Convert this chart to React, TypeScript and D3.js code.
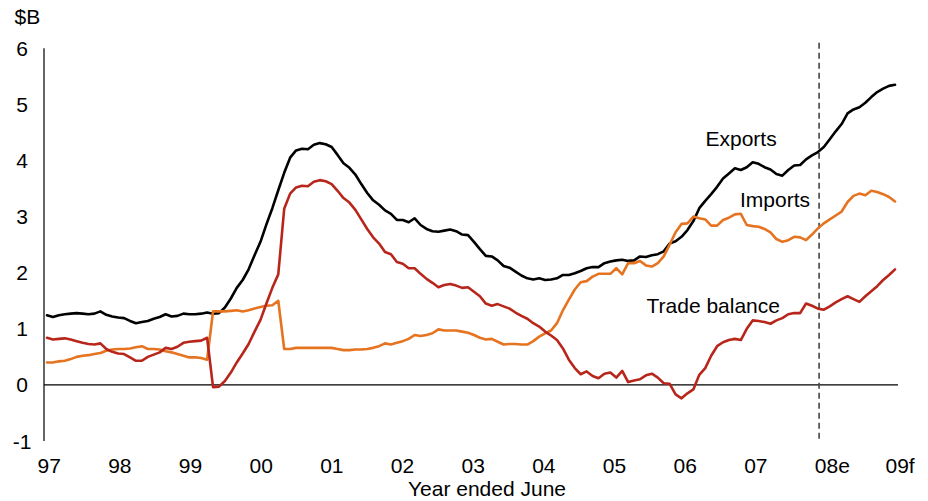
import React from "react";
import * as d3 from "d3";

const exportsData = [
  1.24, 1.21, 1.24, 1.26, 1.27, 1.28, 1.27, 1.26, 1.27, 1.31, 1.25, 1.22,
  1.20, 1.19, 1.14, 1.10, 1.12, 1.14, 1.18, 1.21, 1.26, 1.22, 1.23, 1.27,
  1.26, 1.26, 1.27, 1.29, 1.27, 1.28, 1.38, 1.54, 1.73, 1.87, 2.06, 2.31,
  2.55, 2.86, 3.15, 3.47, 3.78, 4.05, 4.18, 4.21, 4.20, 4.28, 4.31, 4.29,
  4.24, 4.10, 3.95, 3.87, 3.75, 3.58, 3.42, 3.29, 3.21, 3.11, 3.05, 2.94,
  2.94, 2.90, 2.97, 2.85, 2.78, 2.74, 2.73, 2.75, 2.77, 2.74, 2.68, 2.67,
  2.55, 2.42, 2.30, 2.29, 2.22, 2.12, 2.09, 2.02, 1.95, 1.90, 1.88, 1.90,
  1.87, 1.88, 1.90, 1.96, 1.96, 1.99, 2.03, 2.08, 2.10, 2.10, 2.17, 2.20,
  2.22, 2.23, 2.21, 2.22, 2.29, 2.28, 2.31, 2.33, 2.38, 2.52, 2.56, 2.64,
  2.76, 2.92, 3.15, 3.28, 3.40, 3.53, 3.68, 3.77, 3.86, 3.83, 3.88, 3.97,
  3.94, 3.88, 3.84, 3.76, 3.73, 3.83, 3.91, 3.92, 4.02, 4.09, 4.15, 4.24,
  4.38, 4.52, 4.65, 4.84, 4.91, 4.95, 5.03, 5.13, 5.22, 5.28, 5.33, 5.35,
];

const importsData = [
  0.40, 0.40, 0.42, 0.43, 0.46, 0.50, 0.52, 0.53, 0.55, 0.57, 0.61, 0.63,
  0.64, 0.64, 0.65, 0.67, 0.69, 0.64, 0.64, 0.63, 0.60, 0.58, 0.55, 0.52,
  0.49, 0.49, 0.48, 0.45, 1.31, 1.31, 1.31, 1.32, 1.33, 1.31, 1.33, 1.36,
  1.39, 1.41, 1.42, 1.50, 0.64, 0.64, 0.66, 0.66, 0.66, 0.66, 0.66, 0.66,
  0.66, 0.64, 0.62, 0.62, 0.63, 0.63, 0.64, 0.66, 0.69, 0.74, 0.72, 0.75,
  0.78, 0.82, 0.89, 0.87, 0.89, 0.92, 0.99, 0.97, 0.97, 0.97, 0.95, 0.93,
  0.89, 0.84, 0.81, 0.82, 0.77, 0.72, 0.73, 0.73, 0.72, 0.72, 0.78, 0.86,
  0.92, 0.97, 1.10, 1.33, 1.52, 1.70, 1.83, 1.85, 1.93, 1.98, 1.98, 1.98,
  2.08, 1.97, 2.17, 2.17, 2.21, 2.13, 2.11, 2.17, 2.29, 2.50, 2.72, 2.87,
  2.88, 3.00, 2.97, 2.95, 2.84, 2.84, 2.94, 2.98, 3.04, 3.05, 2.85, 2.83,
  2.82, 2.78, 2.72, 2.60, 2.55, 2.58, 2.64, 2.63, 2.58, 2.68, 2.79, 2.88,
  2.95, 3.02, 3.09, 3.26, 3.37, 3.41, 3.38, 3.46, 3.44, 3.40, 3.35, 3.27,
];

const balanceData = [
  0.84, 0.81, 0.82, 0.83, 0.81, 0.78, 0.75, 0.73, 0.72, 0.74, 0.64, 0.59,
  0.56, 0.55, 0.49, 0.43, 0.43, 0.50, 0.54, 0.58, 0.66, 0.64, 0.68, 0.75,
  0.77, 0.78, 0.79, 0.84, -0.04, -0.03, 0.07, 0.22, 0.40, 0.56, 0.73, 0.95,
  1.16, 1.45, 1.73, 1.97, 3.14, 3.41, 3.52, 3.55, 3.54, 3.62, 3.65, 3.63,
  3.58, 3.46, 3.33, 3.25, 3.12, 2.95, 2.78, 2.63, 2.52, 2.37, 2.33, 2.19,
  2.16, 2.08, 2.08, 1.98, 1.89, 1.82, 1.74, 1.78, 1.80, 1.77, 1.73, 1.74,
  1.66, 1.58, 1.45, 1.41, 1.44, 1.40, 1.36, 1.29, 1.23, 1.18, 1.10, 1.04,
  0.95, 0.88, 0.80, 0.65, 0.45, 0.30, 0.19, 0.24, 0.16, 0.12, 0.20, 0.22,
  0.13, 0.25, 0.05, 0.08, 0.10, 0.17, 0.20, 0.13, 0.03, 0.02, -0.17, -0.24,
  -0.15, -0.08, 0.18, 0.30, 0.52, 0.69, 0.76, 0.80, 0.82, 0.80, 1.00, 1.15,
  1.14, 1.12, 1.09, 1.15, 1.19, 1.26, 1.28, 1.28, 1.45, 1.41, 1.36, 1.34,
  1.40, 1.47, 1.53, 1.58, 1.53, 1.48, 1.58, 1.67, 1.76, 1.87, 1.96, 2.06,
];

const xTickLabels = ["97", "98", "99", "00", "01", "02", "03", "04", "05", "06", "07", "08e", "09f"];
const yTicks = [-1, 0, 1, 2, 3, 4, 5, 6];
const forecastIndex = 130.2;

const seriesLabels = [
  { name: "Exports", color: "#000000" },
  { name: "Imports", color: "#E6731F" },
  { name: "Trade balance", color: "#B8261B" },
];

const FONT = "'Liberation Sans', Arial, Helvetica, sans-serif";

export default function App() {
  const W = 928;
  const H = 501;
  const n = exportsData.length;
  const x = d3.scaleLinear().domain([0, n - 1]).range([47, 895]);
  const y = d3.scaleLinear().domain([-1, 6]).range([441, 48.3]);
  const labelX = d3.scaleLinear().domain([0, xTickLabels.length - 1]).range([37.5, 885.5]);

  const line = d3
    .line<number>()
    .x((_, i) => x(i))
    .y((d) => y(d));

  const series = [exportsData, importsData, balanceData];

  return (
    <svg
      width={W}
      height={H}
      viewBox={`0 0 ${W} ${H}`}
      style={{ position: "absolute", left: 0, top: 0, background: "#fff" }}
      fontFamily={FONT}
    >
      <rect x={0} y={0} width={W} height={H} fill="#fff" />
      <line x1={44} x2={44} y1={y(6)} y2={y(-1)} stroke="#000" strokeWidth={1.2} />
      <line x1={44} x2={898} y1={y(0)} y2={y(0)} stroke="#000" strokeWidth={1.2} />
      <line
        x1={x(forecastIndex)}
        x2={x(forecastIndex)}
        y1={y(6.1)}
        y2={y(-1.03)}
        stroke="#444"
        strokeWidth={1.6}
        strokeDasharray="6,4"
      />
      {yTicks.map((t) => (
        <text key={t} x={22} y={y(t)} dy="0.36em" textAnchor="middle" fontSize={21} fill="#000">
          {t}
        </text>
      ))}
      <text x={14.5} y={24} fontSize={21} fill="#000">$B</text>
      {xTickLabels.map((lab, k) => (
        <text key={lab} x={labelX(k)} y={472.5} fontSize={21} fill="#000">
          {lab}
        </text>
      ))}
      <text x={487} y={496} textAnchor="middle" fontSize={21} fill="#000">
        Year ended June
      </text>
      {series.map((s, k) => (
        <path
          key={k}
          d={line(s) || ""}
          fill="none"
          stroke={seriesLabels[k].color}
          strokeWidth={2.6}
          strokeLinejoin="round"
          strokeLinecap="round"
        />
      ))}
      <text x={705.5} y={146} fontSize={21} fill="#000">{seriesLabels[0].name}</text>
      <text x={740} y={207} fontSize={21} fill="#000">{seriesLabels[1].name}</text>
      <text x={646.5} y={313} fontSize={21} fill="#000">{seriesLabels[2].name}</text>
    </svg>
  );
}
